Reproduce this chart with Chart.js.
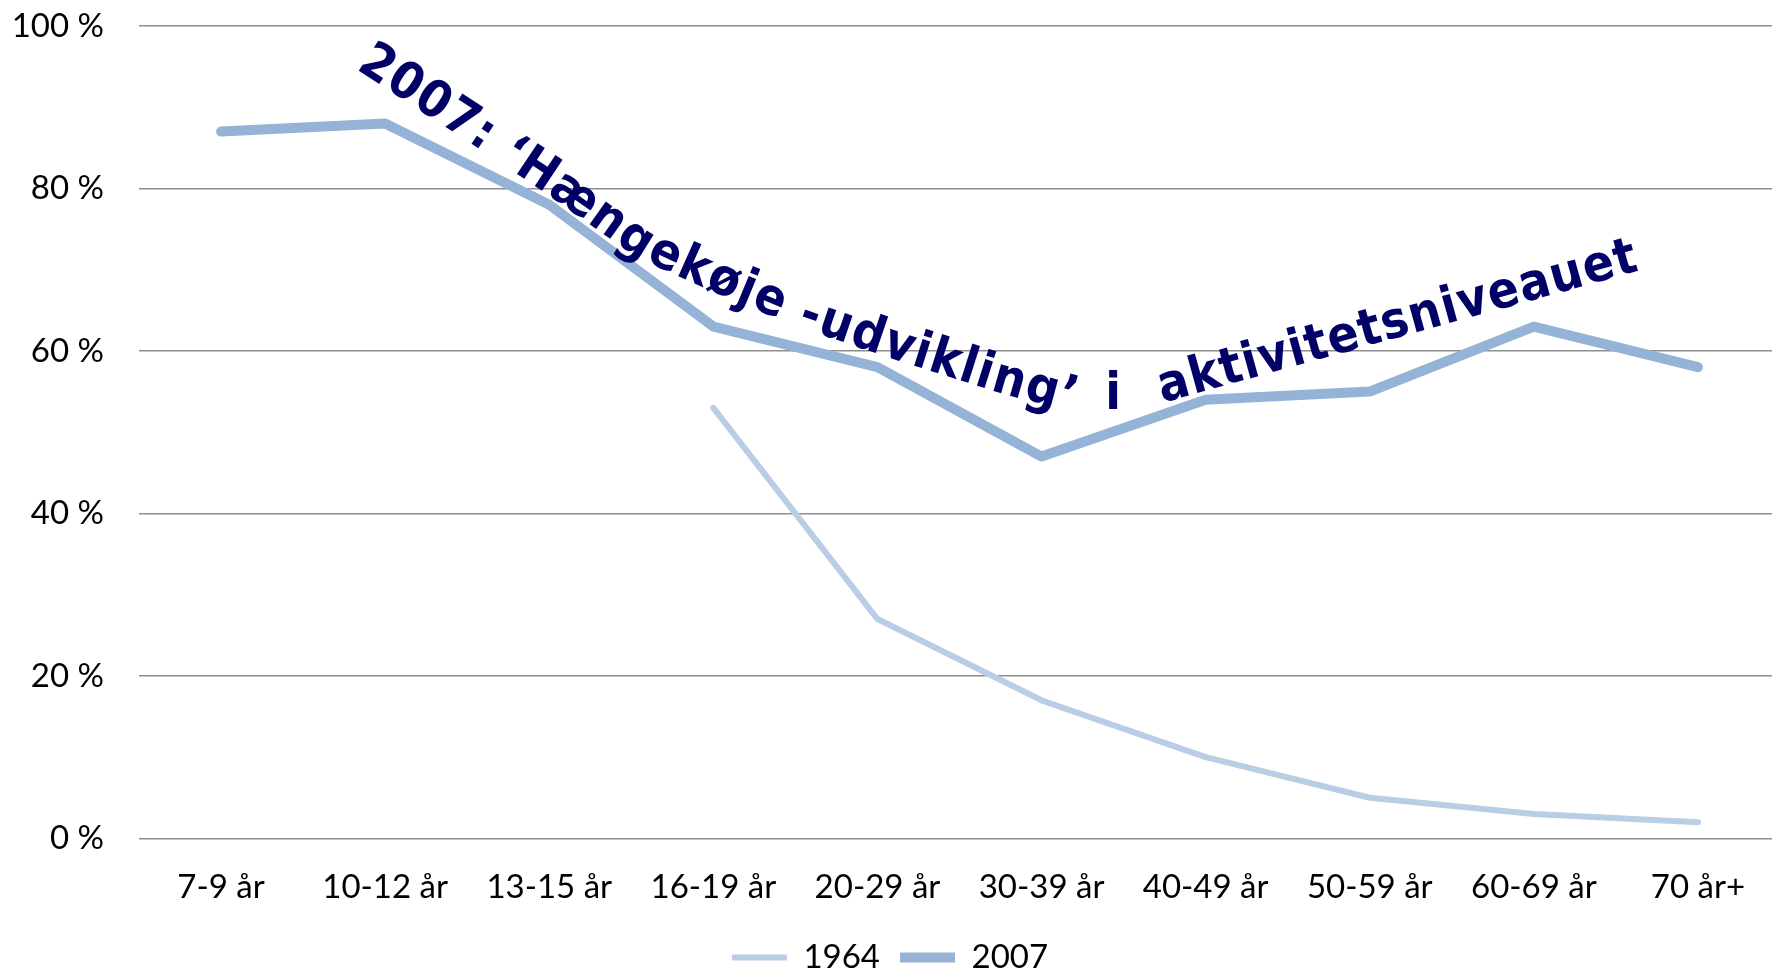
<!DOCTYPE html>
<html>
<head>
<meta charset="utf-8">
<script src="https://cdn.jsdelivr.net/npm/chart.js@4.4.1/dist/chart.umd.min.js"></script>
<style>
  html, body { margin: 0; padding: 0; background: #fff; overflow: hidden; }
  #wrap { width: 1780px; height: 969px; }
</style>
</head>
<body>
<div id="wrap"><canvas id="myChart"></canvas></div>
<script>
const ageGroups = ['7-9 år', '10-12 år', '13-15 år', '16-19 år', '20-29 år', '30-39 år', '40-49 år', '50-59 år', '60-69 år', '70 år+'];
const share1964 = [null, null, null, 53, 27, 17, 10, 5, 3, 2];
const share2007 = [87, 88, 78, 63, 58, 47, 54, 55, 63, 58];
const seriesNames = ['1964', '2007'];

// annotation text, laid along a path given in (category index, percent)
const notePart1 = '2007: \u2018Hængekøje -udvikling\u2019';
const notePath1 = [[0.865, 96.1], [1.523, 87.5], [2.072, 80.1], [2.559, 73.1], [2.925, 69.7], [3.534, 64.6], [4.144, 60.4], [4.753, 56.5], [5.21, 54.0]];
const notePart2 = 'i';
const notePoint2 = [5.436, 54.5];
const notePart3 = 'aktivitetsniveauet';
const notePath3 = [[5.716, 55.2], [8.623, 71.5]];

const noteFont = 'bold 51px "DejaVu Sans Condensed", "DejaVu Sans"';
const noteColor = '#000066';
const labelFont = { family: 'Lato', size: 33 };

function textAlongPath(ctx, text, pts) {
  const segs = [];
  let total = 0;
  for (let i = 0; i < pts.length - 1; i += 1) {
    const dx = pts[i + 1][0] - pts[i][0];
    const dy = pts[i + 1][1] - pts[i][1];
    const len = Math.hypot(dx, dy);
    segs.push({x0: pts[i][0], y0: pts[i][1], dx, dy, len, start: total});
    total += len;
  }
  const pointAt = (d) => {
    let seg = segs.find(g => d <= g.start + g.len) || segs[segs.length - 1];
    if (d < 0) seg = segs[0];
    const t = (d - seg.start) / seg.len;
    return [seg.x0 + seg.dx * t, seg.y0 + seg.dy * t];
  };
  const chars = [...text];
  const widths = chars.map(c => ctx.measureText(c).width);
  const textW = widths.reduce((a, b) => a + b, 0);
  const extra = chars.length > 1 ? (total - textW) / (chars.length - 1) : 0;
  let s = 0;
  chars.forEach((c, i) => {
    const w = widths[i];
    const mid = s + w / 2;
    const p = pointAt(mid);
    const a = pointAt(mid - w / 2 - 4);
    const b = pointAt(mid + w / 2 + 4);
    const ang = Math.atan2(b[1] - a[1], b[0] - a[0]);
    ctx.save();
    ctx.translate(p[0], p[1]);
    ctx.rotate(ang);
    ctx.fillText(c, 0, 0);
    ctx.restore();
    s += w + extra;
  });
}

const notePlugin = {
  id: 'curvedNote',
  afterDatasetsDraw(chart) {
    const ctx = chart.ctx;
    const xs = chart.scales.x;
    const ys = chart.scales.y;
    const toPx = (p) => [xs.getPixelForValue(p[0]), ys.getPixelForValue(p[1])];
    ctx.save();
    ctx.font = noteFont;
    ctx.fillStyle = noteColor;
    ctx.textAlign = 'center';
    ctx.textBaseline = 'middle';
    textAlongPath(ctx, notePart1, notePath1.map(toPx));
    const p2 = toPx(notePoint2);
    ctx.fillText(notePart2, p2[0], p2[1]);
    textAlongPath(ctx, notePart3, notePath3.map(toPx));
    ctx.restore();
  }
};

const ctx = document.getElementById('myChart').getContext('2d');
const myChart = new Chart(ctx, {
  type: 'line',
  data: {
    labels: ageGroups,
    datasets: [{
      label: seriesNames[0],
      data: share1964,
      borderColor: '#B9CDE5',
      backgroundColor: '#B9CDE5',
      borderWidth: 6,
      borderCapStyle: 'round',
      borderJoinStyle: 'round',
      pointRadius: 0,
      pointHoverRadius: 0,
      pointStyle: 'line',
      tension: 0
    },
    {
      label: seriesNames[1],
      data: share2007,
      borderColor: '#95B3D7',
      backgroundColor: '#95B3D7',
      borderWidth: 10,
      borderCapStyle: 'round',
      borderJoinStyle: 'round',
      pointRadius: 0,
      pointHoverRadius: 0,
      pointStyle: 'line',
      tension: 0
    }]
  },
  options: {
    responsive: true,
    maintainAspectRatio: false,
    animation: false,
    layout: { padding: { top: 0, right: 0, bottom: -15, left: 0 } },
    plugins: {
      tooltip: { enabled: false },
      legend: {
        position: 'bottom',
        labels: {
          usePointStyle: true,
          pointStyleWidth: 55,
          boxHeight: 20,
          padding: 20,
          color: '#000',
          font: labelFont
        }
      }
    },
    scales: {
      x: {
        offset: true,
        grid: { display: false, drawTicks: false },
        border: { display: false },
        ticks: {
          color: '#000',
          padding: 29,
          maxRotation: 0,
          autoSkip: false,
          font: labelFont
        },
        afterFit(scale) { scale.height -= 15; }
      },
      y: {
        min: 0,
        max: 100,
        grid: { color: '#8d8d8d', lineWidth: 1.5, drawTicks: false },
        border: { display: false },
        ticks: {
          stepSize: 20,
          color: '#000',
          padding: 35,
          font: labelFont,
          callback: (v) => v + ' %'
        },
        afterFit(scale) {
          scale.width = 139;
          scale.paddingTop = 26;
          scale.paddingBottom = 20;
        }
      }
    }
  },
  plugins: [notePlugin]
});
</script>
</body>
</html>
